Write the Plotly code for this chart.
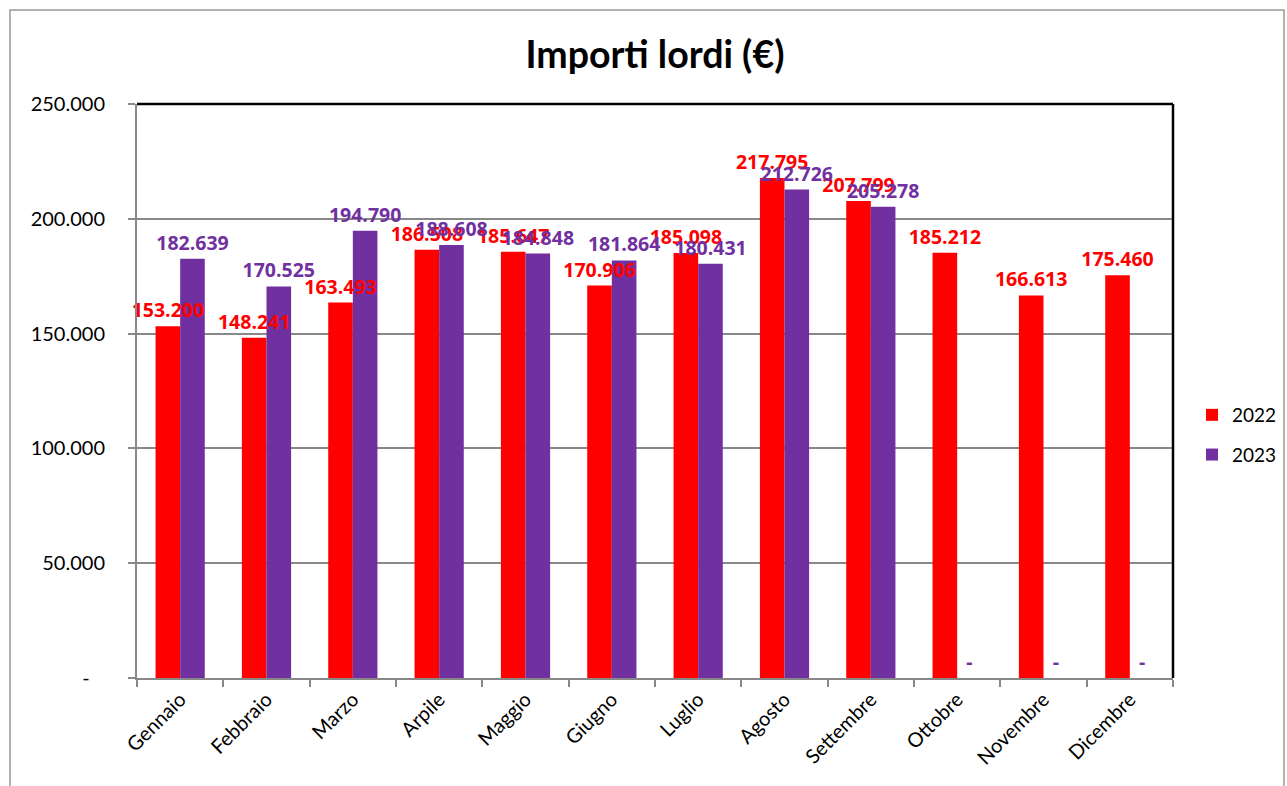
import plotly.graph_objects as go

months = ["Gennaio", "Febbraio", "Marzo", "Arpile", "Maggio", "Giugno", "Luglio",
          "Agosto", "Settembre", "Ottobre", "Novembre", "Dicembre"]
v2022 = [153200, 148241, 163493, 186508, 185647, 170906, 185098, 217795, 207799, 185212, 166613, 175460]
v2023 = [182639, 170525, 194790, 188608, 184848, 181864, 180431, 212726, 205278, 0, 0, 0]
yticks = [0, 50000, 100000, 150000, 200000, 250000]
yticktext = ["-\u00a0\u00a0\u00a0", "50.000", "100.000", "150.000", "200.000", "250.000"]

RED = "#FF0000"
PURPLE = "#7030A0"
FONT = "Lato, 'Open Sans', sans-serif"
LABEL_FONT = "'Open Sans', Lato, sans-serif"


def fmt(v):
    return f"{v:,}".replace(",", ".") if v else "-"


fig = go.Figure()
# bars
for name, vals, col, grp in [("2022", v2022, RED, "a"), ("2023", v2023, PURPLE, "b")]:
    fig.add_trace(go.Bar(
        name=name, x=months, y=vals, offsetgroup=grp, legendgroup=name,
        marker=dict(color=col, line=dict(width=0)), hoverinfo="x+y",
    ))
# labels drawn above all bars
for name, vals, col, grp in [("2022", v2022, RED, "a"), ("2023", v2023, PURPLE, "b")]:
    fig.add_trace(go.Bar(
        name=name, x=months, y=vals, offsetgroup=grp, showlegend=False, legendgroup=name,
        marker=dict(color="rgba(0,0,0,0)", line=dict(width=0)), hoverinfo="skip",
        text=[fmt(v) for v in vals], textposition="outside",
        constraintext="none", cliponaxis=False,
        textfont=dict(color=col, size=19.5, family=LABEL_FONT, weight=700),
    ))

L, R, T, B = 137, 1173, 104, 678
W, H = 1287, 786
pw, ph = R - L, B - T

fig.update_layout(
    width=W, height=H,
    margin=dict(l=L, r=W - R, t=T, b=H - B, pad=0, autoexpand=False),
    paper_bgcolor="white", plot_bgcolor="white",
    barmode="group", bargap=0.43, bargroupgap=0,
    font=dict(family=FONT, size=19, color="black"),
    title=dict(text="<b>Importi lordi (€)</b>", x=0.5, xref="paper", xanchor="center",
               y=1 - 55 / H, yref="container", yanchor="middle",
               font=dict(size=37.5, family=FONT, color="black")),
    legend=dict(x=(1192 - L) / pw, y=(678 - 435) / ph, xanchor="left", yanchor="middle",
                font=dict(size=19, family=FONT), bgcolor="rgba(0,0,0,0)",
                itemwidth=30, tracegroupgap=12),
    showlegend=True,
    xaxis=dict(showline=True, linecolor="#888888", linewidth=2, ticks="outside",
               tickson="boundaries", ticklen=7, tickwidth=2, tickcolor="#888888",
               tickangle=-45, tickfont=dict(size=20, family=FONT), showgrid=False),
    yaxis=dict(range=[0, 250000], tickvals=yticks, ticktext=yticktext,
               showline=True, linecolor="#888888", linewidth=2, ticks="outside",
               ticklen=7, tickwidth=2, tickcolor="#888888", ticklabelstandoff=19,
               showgrid=True, gridcolor="#888888", gridwidth=2,
               tickfont=dict(size=20, family=FONT), zeroline=False),
    shapes=[
        dict(type="line", xref="paper", yref="paper", x0=0, x1=1, y0=1, y1=1,
             line=dict(color="black", width=2.5)),
        dict(type="line", xref="paper", yref="paper", x0=1, x1=1, y0=0, y1=1,
             line=dict(color="black", width=2.5)),
        dict(type="rect", xref="paper", yref="paper",
             x0=(10 - L) / pw, x1=(1284 - L) / pw,
             y0=-(H + 20 - B) / ph, y1=1 + (T - 10) / ph,
             line=dict(color="#999999", width=1.5), fillcolor="rgba(0,0,0,0)", layer="below"),
    ],
)

fig.write_html("out.html")
